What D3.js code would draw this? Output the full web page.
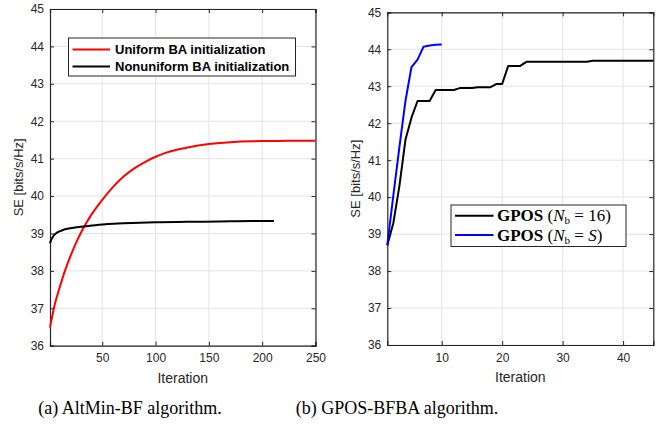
<!DOCTYPE html>
<html><head><meta charset="utf-8">
<script src="https://cdn.jsdelivr.net/npm/d3@7"></script>
<style>body{margin:0;background:#fff}svg{display:block}</style>
</head><body>
<svg id="c" width="667" height="429"></svg>
<script>
// ---- data ----
const leftIter_uniform = [1,5,10,15,20,25,30,35,40,45,50,60,70,80,90,100,110,120,130,140,150,160,170,180,190,200,225,250];
const leftSE_uniform   = [36.48,37.05,37.55,38.0,38.38,38.72,39.02,39.28,39.51,39.71,39.9,40.24,40.52,40.74,40.91,41.05,41.16,41.24,41.3,41.35,41.39,41.42,41.44,41.455,41.465,41.47,41.48,41.48];
const leftIter_nonuni  = [1,2,3,5,8,12,16,20,30,40,50,70,100,130,160,190,211];
const leftSE_nonuni    = [38.74,38.82,38.88,38.96,39.03,39.08,39.12,39.14,39.18,39.21,39.24,39.27,39.3,39.31,39.32,39.33,39.33];
const rightSE_nb16 = [38.7,39.3,40.3,41.55,42.15,42.6,42.6,42.6,42.9,42.9,42.9,42.9,42.95,42.95,42.95,42.97,42.97,42.97,43.06,43.06,43.55,43.55,43.55,43.66,43.66,43.66,43.66,43.66,43.66,43.66,43.66,43.66,43.66,43.66,43.69,43.69,43.69,43.69,43.69,43.69,43.69,43.69,43.69,43.69,43.69];
const rightSE_nbS  = [38.7,40.05,41.35,42.6,43.52,43.72,44.07,44.1,44.12,44.13];
const yTicks = [36,37,38,39,40,41,42,43,44,45];
const leftXTicks = [50,100,150,200,250];
const rightXTicks = [10,20,30,40];
const leftLegend = ["Uniform BA initialization","Nonuniform BA initialization"];
const captions = ["(a) AltMin-BF algorithm.","(b) GPOS-BFBA algorithm."];

const svg = d3.select("#c");
const axisColor = "#262626";
const gridColor = "#e3e3e3";

function panel(o){
  const g = svg.append("g");
  const x = d3.scaleLinear().domain(o.xd).range([o.x0,o.x1]);
  const y = d3.scaleLinear().domain([36,45]).range([o.y1,o.y0]);
  g.selectAll(".gx").data(o.xt).enter().append("line")
    .attr("x1",d=>x(d)).attr("x2",d=>x(d)).attr("y1",o.y0).attr("y2",o.y1)
    .attr("stroke",gridColor).attr("stroke-width",1);
  g.selectAll(".gy").data(yTicks).enter().append("line")
    .attr("x1",o.x0).attr("x2",o.x1).attr("y1",d=>y(d)).attr("y2",d=>y(d))
    .attr("stroke",gridColor).attr("stroke-width",1);
  const ax = g.append("g").attr("transform",`translate(0,${o.y1})`)
    .call(d3.axisBottom(x).tickValues(o.xt).tickSize(-4).tickPadding(8).tickFormat(d3.format("d")));
  const ay = g.append("g").attr("transform",`translate(${o.x0},0)`)
    .call(d3.axisLeft(y).tickValues(yTicks).tickSize(-4).tickPadding(6).tickFormat(d3.format("d")));
  const at = g.append("g").attr("transform",`translate(0,${o.y0})`)
    .call(d3.axisTop(x).tickValues(o.xt).tickSize(-4).tickFormat(""));
  const ar = g.append("g").attr("transform",`translate(${o.x1},0)`)
    .call(d3.axisRight(y).tickValues(yTicks).tickSize(-4).tickFormat(""));
  [ax,ay,at,ar].forEach(a=>{
    a.select(".domain").attr("stroke",axisColor).attr("stroke-width",1.2);
    a.selectAll(".tick line").attr("stroke",axisColor);
    a.selectAll("text").attr("fill",axisColor).style("font-family","Liberation Sans, Arial, sans-serif").style("font-size","12px");
  });
  g.append("text").attr("x",(o.x0+o.x1)/2).attr("y",o.y1+37).attr("text-anchor","middle")
    .attr("fill",axisColor).style("font-family","Liberation Sans, Arial, sans-serif").style("font-size","14px").text("Iteration");
  g.append("text").attr("transform",`translate(${o.ylx},${(o.y0+o.y1)/2}) rotate(-90)`).attr("text-anchor","middle")
    .attr("fill",axisColor).style("font-family","Liberation Sans, Arial, sans-serif").style("font-size","13px").text("SE [bits/s/Hz]");
  return {g,x,y};
}

const L = panel({x0:50,x1:315.5,y0:9,y1:345.7,xd:[1,250],xt:leftXTicks,ylx:23});
const R = panel({x0:387.3,x1:653.3,y0:12.3,y1:345,xd:[1,45],xt:rightXTicks,ylx:360});

function drawLine(P, xs, ys, color){
  const pts = xs.map((d,i)=>[d,ys[i]]);
  P.g.append("path").datum(pts)
    .attr("d", d3.line().x(d=>P.x(d[0])).y(d=>P.y(d[1])).curve(d3.curveMonotoneX))
    .attr("fill","none").attr("stroke",color).attr("stroke-width",2);
}
function drawLineLin(P, ys, color){
  const pts = ys.map((v,i)=>[i+1,v]);
  P.g.append("path").datum(pts)
    .attr("d", d3.line().x(d=>P.x(d[0])).y(d=>P.y(d[1])))
    .attr("fill","none").attr("stroke",color).attr("stroke-width",2).attr("stroke-linejoin","round");
}
drawLine(L, leftIter_uniform, leftSE_uniform, "#ff0000");
drawLine(L, leftIter_nonuni, leftSE_nonuni, "#000000");
drawLineLin(R, rightSE_nb16, "#000000");
drawLineLin(R, rightSE_nbS, "#0000ff");

// left legend
const lg = svg.append("g");
lg.append("rect").attr("x",68.5).attr("y",38).attr("width",227).attr("height",38)
  .attr("fill","#fff").attr("stroke",axisColor).attr("stroke-width",1);
[["#ff0000",leftLegend[0],49.5],["#000000",leftLegend[1],66.5]].forEach(([c,t,yy])=>{
  lg.append("line").attr("x1",72.5).attr("x2",110).attr("y1",yy).attr("y2",yy).attr("stroke",c).attr("stroke-width",2);
  lg.append("text").attr("x",115).attr("y",yy+4.5).attr("fill","#000")
    .style("font-family","Liberation Sans, Arial, sans-serif").style("font-size","13px").style("font-weight","bold").text(t);
});

// right legend
const rg = svg.append("g");
rg.append("rect").attr("x",451).attr("y",205).attr("width",175).attr("height",41.5)
  .attr("fill","#fff").attr("stroke",axisColor).attr("stroke-width",1);
[["#000000","16",215.7,false],["#0000ff","S",235,true]].forEach(([c,v,yy,it])=>{
  rg.append("line").attr("x1",455).attr("x2",493.5).attr("y1",yy).attr("y2",yy).attr("stroke",c).attr("stroke-width",2);
  const t = rg.append("text").attr("x",497).attr("y",yy+5.5).attr("fill","#000")
    .style("font-family","Liberation Serif, Times New Roman, serif").style("font-size","17px");
  t.append("tspan").style("font-weight","bold").text("GPOS");
  t.append("tspan").text(" (");
  t.append("tspan").style("font-style","italic").text("N");
  t.append("tspan").attr("dy",3).style("font-size","11px").text("b");
  t.append("tspan").attr("dy",-3).text(" = ");
  t.append("tspan").style("font-style",it?"italic":"normal").text(v);
  t.append("tspan").text(")");
});

// captions
svg.append("text").attr("x",130).attr("y",414).attr("text-anchor","middle").attr("fill","#000")
  .style("font-family","Liberation Serif, Times New Roman, serif").style("font-size","18px").text(captions[0]);
svg.append("text").attr("x",397).attr("y",414).attr("text-anchor","middle").attr("fill","#000")
  .style("font-family","Liberation Serif, Times New Roman, serif").style("font-size","18px").text(captions[1]);
</script>
</body></html>
